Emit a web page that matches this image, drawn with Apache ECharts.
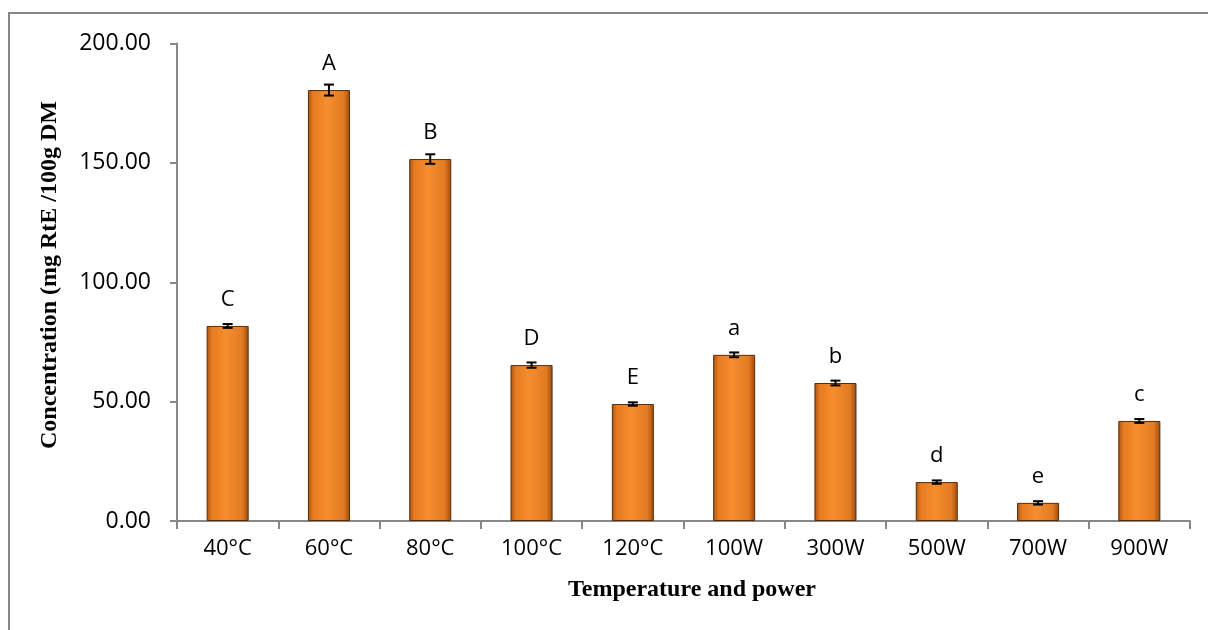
<!DOCTYPE html>
<html>
<head>
<meta charset="utf-8">
<script src="https://cdn.jsdelivr.net/npm/echarts@6/dist/echarts.min.js"></script>
<style>html,body{margin:0;padding:0;background:#fff;}#chart{width:1208px;height:630px;}</style>
</head>
<body>
<div id="chart"></div>
<script>
const categories = ['40°C','60°C','80°C','100°C','120°C','100W','300W','500W','700W','900W'];
const values = [81.7, 180.5, 151.6, 65.3, 49.0, 69.6, 57.8, 16.3, 7.6, 41.9];
const errors = [0.8, 2.3, 2.0, 1.1, 0.7, 1.0, 1.0, 0.7, 0.7, 0.8];
const letters = ['C','A','B','D','E','a','b','d','e','c'];
const yTicks = [0, 50, 100, 150, 200];
const xTitle = 'Temperature and power';
const yTitle = 'Concentration (mg RtE /100g DM';

const chart = echarts.init(document.getElementById('chart'));
const barGrad = new echarts.graphic.LinearGradient(0,0,1,0,[
  {offset:0, color:'#a9520f'},
  {offset:0.12, color:'#e57b22'},
  {offset:0.45, color:'#f68d2e'},
  {offset:0.85, color:'#e27a22'},
  {offset:1, color:'#9a4a0e'}
]);
const titleFont = 'bold 24px "Liberation Serif"';
const option = {
  animation: false,
  graphic: [
    {type:'rect', shape:{x:9,y:13,width:1220,height:640},
     style:{fill:'none', stroke:'#878787', lineWidth:2}, silent:true, z:-1},
    {type:'text', x:692, y:590, style:{text:xTitle, font:titleFont, fill:'#000', align:'center', verticalAlign:'middle'}},
    {type:'text', x:50, y:275, rotation:Math.PI/2, style:{text:yTitle, font:titleFont, fill:'#000', align:'center', verticalAlign:'middle'}}
  ],
  grid: {left:177, right:18, top:43.5, bottom:109},
  xAxis: {
    type:'category', data:categories,
    axisLine:{lineStyle:{color:'#888', width:2}},
    axisTick:{show:true, length:8, alignWithLabel:false, lineStyle:{color:'#888', width:2}},
    axisLabel:{fontFamily:'Open Sans', fontSize:22, color:'#000', margin:17}
  },
  yAxis: {
    type:'value', min:yTicks[0], max:yTicks[yTicks.length-1], interval:50,
    axisLine:{show:true, lineStyle:{color:'#888', width:2}},
    axisTick:{show:true, length:7, lineStyle:{color:'#888', width:2}},
    splitLine:{show:false},
    axisLabel:{fontFamily:'Open Sans', fontSize:23, color:'#000', margin:26, formatter:v=>v.toFixed(2)}
  },
  series: [
    {
      type:'bar', data:values, barWidth:'41.5%',
      itemStyle:{color:barGrad, borderColor:'#5a2c08', borderWidth:1}
    },
    {
      type:'custom',
      data: values.map((v,i)=>[i, v, errors[i]]),
      renderItem: function(params, api){
        const i = api.value(0), v = api.value(1), e = api.value(2);
        const hi = api.coord([i, v+e]), lo = api.coord([i, v-e]), top = api.coord([i, v]);
        const x = hi[0], hw = 5;
        return {type:'group', children:[
          {type:'line', shape:{x1:x,y1:hi[1],x2:x,y2:lo[1]}, style:{stroke:'#000', lineWidth:2}},
          {type:'line', shape:{x1:x-hw,y1:hi[1],x2:x+hw,y2:hi[1]}, style:{stroke:'#000', lineWidth:2}},
          {type:'line', shape:{x1:x-hw,y1:lo[1],x2:x+hw,y2:lo[1]}, style:{stroke:'#000', lineWidth:2}},
          {type:'text', style:{text:letters[i], x:x, y:top[1]-26, align:'center', verticalAlign:'middle',
            font:'22px "Open Sans"', fill:'#000'}}
        ]};
      },
      z:10
    }
  ]
};
chart.setOption(option);
</script>
</body>
</html>
